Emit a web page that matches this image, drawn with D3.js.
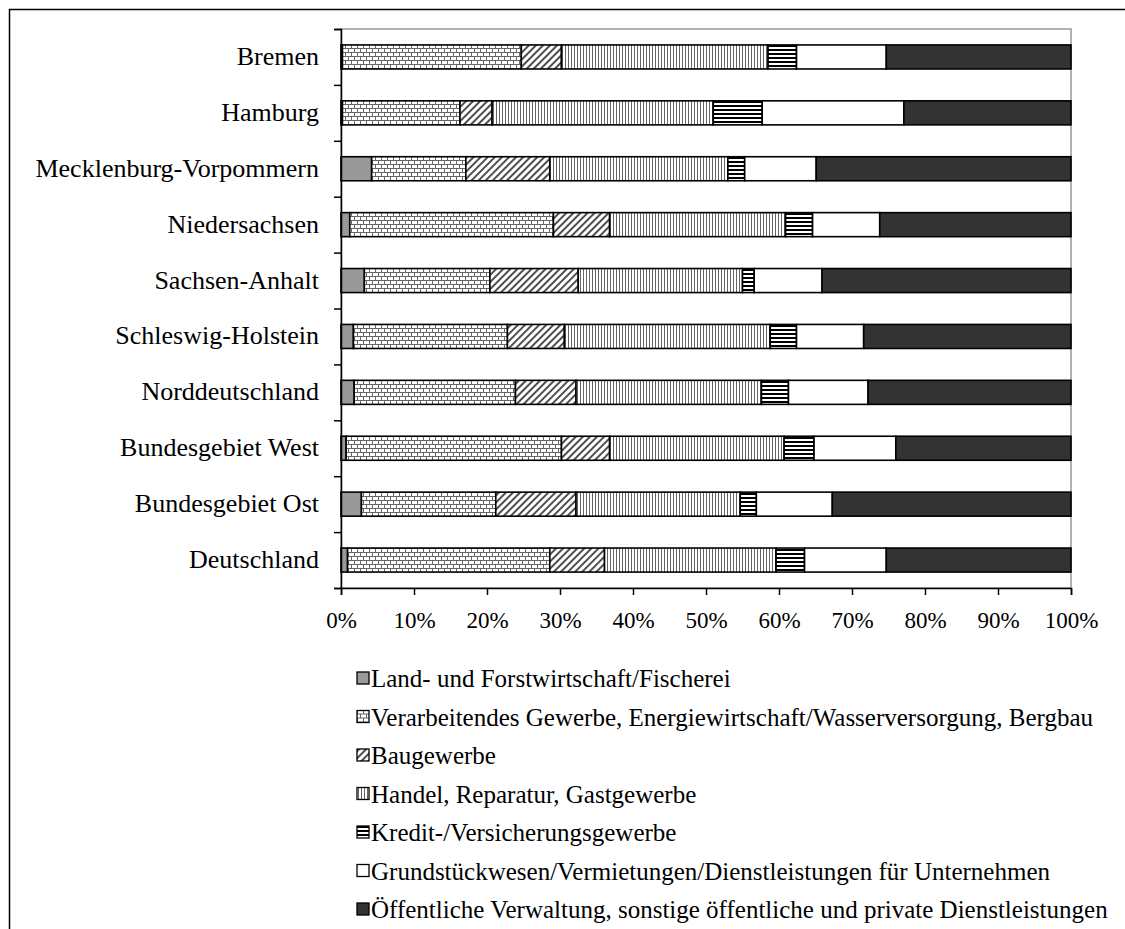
<!DOCTYPE html>
<html>
<head>
<meta charset="utf-8">
<script src="https://cdn.jsdelivr.net/npm/d3@7"></script>
<style>
  body { margin: 0; background: #fff; }
  svg { display: block; }
  text { font-family: "Liberation Serif", "Times New Roman", serif; fill: #000; }
</style>
</head>
<body>
<div id="chart"></div>
<script>
// Anteile der Wirtschaftsbereiche (in %), von oben nach unten
const categories = ['Bremen', 'Hamburg', 'Mecklenburg-Vorpommern', 'Niedersachsen', 'Sachsen-Anhalt',
    'Schleswig-Holstein', 'Norddeutschland', 'Bundesgebiet West', 'Bundesgebiet Ost', 'Deutschland'];

const land   = [0.2, 0.2, 4.2, 1.2, 3.2, 1.7, 1.8, 0.7, 2.8, 0.9];
const verarb = [24.5, 16.1, 12.9, 27.9, 17.2, 21.1, 22.1, 29.5, 18.4, 27.7];
const bau    = [5.5, 4.4, 11.5, 7.7, 12.1, 7.8, 8.3, 6.6, 11.0, 7.5];
const handel = [28.3, 30.3, 24.4, 24.1, 22.5, 28.2, 25.4, 23.9, 22.5, 23.5];
const kredit = [3.9, 6.7, 2.3, 3.7, 1.6, 3.6, 3.7, 4.1, 2.2, 3.9];
const grund  = [12.3, 19.4, 9.8, 9.2, 9.3, 9.2, 10.9, 11.2, 10.4, 11.2];
const oeff   = [25.3, 22.9, 34.9, 26.2, 34.1, 28.4, 27.8, 24.0, 32.7, 25.3];

const seriesNames = [
    'Land- und Forstwirtschaft/Fischerei',
    'Verarbeitendes Gewerbe, Energiewirtschaft/Wasserversorgung, Bergbau',
    'Baugewerbe',
    'Handel, Reparatur, Gastgewerbe',
    'Kredit-/Versicherungsgewerbe',
    'Grundstückwesen/Vermietungen/Dienstleistungen für Unternehmen',
    'Öffentliche Verwaltung, sonstige öffentliche und private Dienstleistungen'
];
const seriesValues = [land, verarb, bau, handel, kredit, grund, oeff];
const xTicks = [0, 10, 20, 30, 40, 50, 60, 70, 80, 90, 100];

const width = 1125, height = 929;
const margin = { top: 29, left: 341, right: 1071, bottom: 588 };

const svg = d3.select('#chart').append('svg')
    .attr('width', width)
    .attr('height', height);

// Füllmuster (Schwarz-Weiß wie im Original)
const defs = svg.append('defs');

const brick = defs.append('pattern').attr('id', 'p-verarb')
    .attr('patternUnits', 'userSpaceOnUse').attr('width', 6).attr('height', 8);
brick.append('rect').attr('width', 6).attr('height', 8).attr('fill', '#fff');
brick.append('path')
    .attr('d', 'M0,0.5H6M0,4.5H6M0.5,0.5V4.5M3.5,4.5V8')
    .attr('stroke', '#666').attr('stroke-width', 1).attr('fill', 'none');

const hatch = defs.append('pattern').attr('id', 'p-bau')
    .attr('patternUnits', 'userSpaceOnUse').attr('width', 5).attr('height', 5)
    .attr('patternTransform', 'rotate(45)');
hatch.append('rect').attr('width', 5).attr('height', 5).attr('fill', '#fff');
hatch.append('line').attr('x1', 1).attr('y1', 0).attr('x2', 1).attr('y2', 5)
    .attr('stroke', '#222').attr('stroke-width', 1.6);

const vert = defs.append('pattern').attr('id', 'p-handel')
    .attr('patternUnits', 'userSpaceOnUse').attr('width', 3).attr('height', 4);
vert.append('rect').attr('width', 3).attr('height', 4).attr('fill', '#fff');
vert.append('rect').attr('x', 1).attr('width', 1).attr('height', 4).attr('fill', '#666');

const horiz = defs.append('pattern').attr('id', 'p-kredit')
    .attr('patternUnits', 'userSpaceOnUse').attr('width', 4).attr('height', 4);
horiz.append('rect').attr('width', 4).attr('height', 4).attr('fill', '#fff');
horiz.append('rect').attr('y', 1).attr('width', 4).attr('height', 2).attr('fill', '#000');

const fills = ['#999999', 'url(#p-verarb)', 'url(#p-bau)', 'url(#p-handel)',
    'url(#p-kredit)', '#ffffff', '#333333'];

// äußerer Rahmen
svg.append('rect')
    .attr('x', 9.5).attr('y', 9.5)
    .attr('width', 1140).attr('height', 940)
    .attr('fill', 'none').attr('stroke', '#000').attr('stroke-width', 1.5);

// scales
const x = d3.scaleLinear().domain([0, 100]).range([margin.left, margin.right]);
const y = d3.scaleBand().domain(categories)
    .range([margin.top, margin.bottom])
    .paddingInner(0.57).paddingOuter(0.285);

// Plotfläche
svg.append('rect')
    .attr('x', margin.left).attr('y', margin.top)
    .attr('width', margin.right - margin.left).attr('height', margin.bottom - margin.top)
    .attr('fill', 'none').attr('stroke', '#999').attr('stroke-width', 1.5);

const rows = categories.map((c, i) => {
    const r = { cat: c };
    seriesValues.forEach((vals, k) => { r['s' + k] = vals[i]; });
    return r;
});
const stacked = d3.stack().keys(seriesValues.map((v, k) => 's' + k))(rows);

svg.append('g').selectAll('g')
    .data(stacked)
    .enter().append('g')
    .attr('fill', (d, k) => fills[k])
    .selectAll('rect')
    .data(d => d)
    .enter().append('rect')
    .attr('x', d => x(d[0]))
    .attr('y', d => y(d.data.cat))
    .attr('width', d => x(d[1]) - x(d[0]))
    .attr('height', y.bandwidth())
    .attr('stroke', '#000')
    .attr('stroke-width', 1.6);

// y-Achse mit Strichen zwischen den Kategorien
const yIdx = d3.scaleLinear().domain([0, categories.length]).range([margin.top, margin.bottom]);
svg.append('g')
    .attr('transform', `translate(${margin.left},0)`)
    .call(d3.axisLeft(yIdx).ticks(categories.length).tickSize(7).tickFormat(''))
    .call(g => g.select('.domain').attr('stroke-width', 1.5))
    .call(g => g.selectAll('.tick line').attr('stroke-width', 1.5));

svg.append('g').selectAll('text')
    .data(categories)
    .enter().append('text')
    .attr('x', 319)
    .attr('y', d => y(d) + y.bandwidth() / 2 + 8)
    .attr('text-anchor', 'end')
    .attr('font-size', 26)
    .text(d => d);

// x-Achse
const xAxis = svg.append('g')
    .attr('transform', `translate(0,${margin.bottom})`)
    .call(d3.axisBottom(x).tickValues(xTicks).tickSize(7).tickFormat(d => d + '%'))
    .call(g => g.select('.domain').attr('stroke-width', 1.5))
    .call(g => g.selectAll('.tick line').attr('stroke-width', 1.5));
xAxis.selectAll('.tick text')
    .attr('y', 40).attr('dy', 0)
    .attr('font-size', 23)
    .attr('font-family', '"Liberation Serif", serif');

// Legende
const legend = svg.append('g').selectAll('g')
    .data(seriesNames)
    .enter().append('g')
    .attr('transform', (d, i) => `translate(357,${687 + i * 38.5})`);
legend.append('rect')
    .attr('x', 0).attr('y', -15)
    .attr('width', 12).attr('height', 12)
    .attr('fill', (d, i) => fills[i])
    .attr('stroke', '#000').attr('stroke-width', 1.3);
legend.append('text')
    .attr('x', 14).attr('y', 0)
    .attr('font-size', 25)
    .text(d => d);
</script>
</body>
</html>
